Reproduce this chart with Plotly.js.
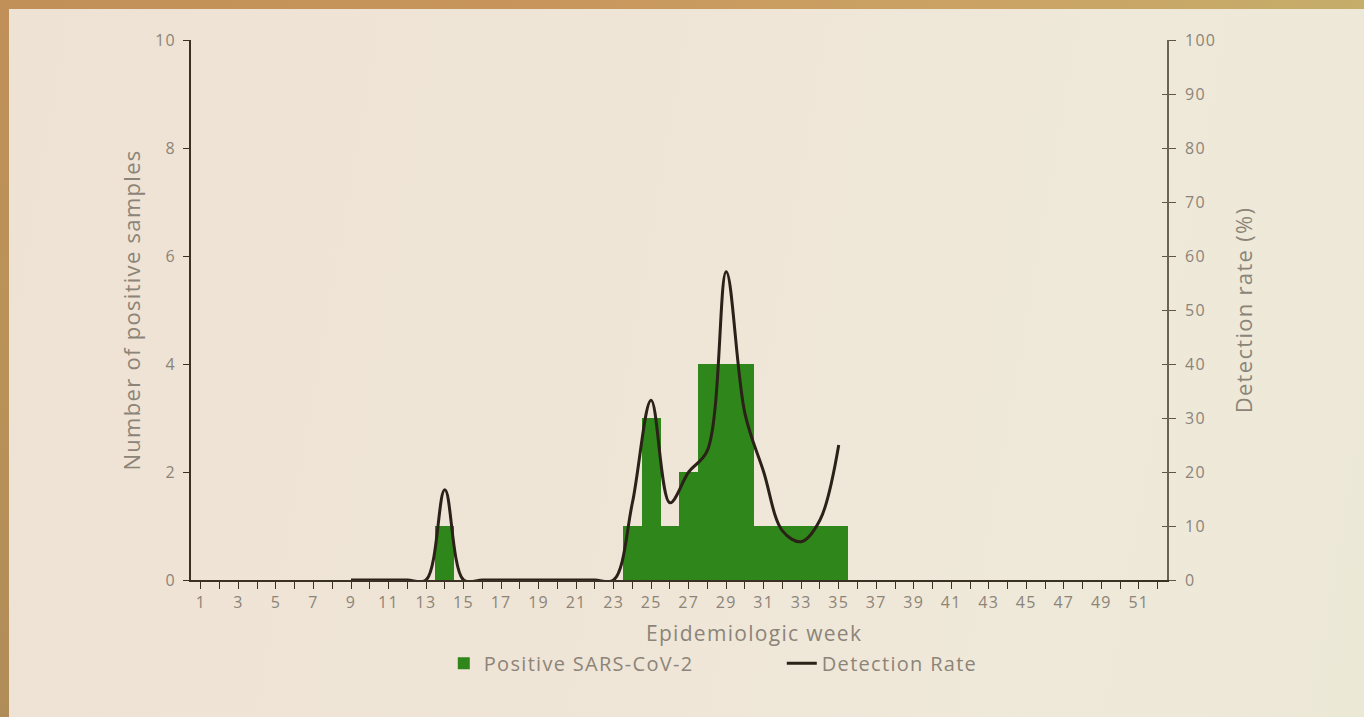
<!DOCTYPE html>
<html>
<head>
<meta charset="utf-8">
<script src="https://cdn.plot.ly/plotly-3.0.1.min.js"></script>
<style>
html,body{margin:0;padding:0;width:1364px;height:717px;overflow:hidden;}
#bg{position:absolute;left:0;top:0;width:1364px;height:717px;
 background:linear-gradient(100deg,#eee2d4 0%,#efe5d7 45%,#efe9da 75%,#ece8d6 100%);}
#btop{position:absolute;left:0;top:0;width:1364px;height:9px;
 background:linear-gradient(90deg,#c09058 0%,#c8965c 40%,#cba264 70%,#c5ad6a 100%);}
#bleft{position:absolute;left:0;top:0;width:9px;height:717px;
 background:linear-gradient(180deg,#c09058 0%,#b99257 50%,#b08c58 100%);}
#chart{position:absolute;left:0;top:0;width:1364px;height:717px;}
text{letter-spacing:1.3px;}
</style>
</head>
<body>
<div id="bg"></div>
<div id="chart"></div>
<div id="btop"></div>
<div id="bleft"></div>
<script>
// Epidemiologic weeks 1..52
const weeks = [];
for (let w = 1; w <= 52; w++) weeks.push(w);
const tickLabels = weeks.map(w => (w % 2 === 1 ? String(w) : ''));

// Positive SARS-CoV-2 samples per week
const positiveWeeks = [14, 24, 25, 26, 27, 28, 29, 30, 31, 32, 33, 34, 35];
const positiveCounts = [1, 1, 3, 1, 2, 4, 4, 4, 1, 1, 1, 1, 1];

// Detection rate (%) per week
const rateWeeks = [9, 10, 11, 12, 13, 14, 15, 16, 17, 18, 19, 20, 21, 22, 23, 24, 25, 26, 27, 28, 29, 30, 31, 32, 33, 34, 35];
const rateValues = [0, 0, 0, 0, 0, 16.7, 0, 0, 0, 0, 0, 0, 0, 0, 0, 14.3, 33.3, 14.3, 20, 24, 57.1, 30.8, 20, 9.1, 7.1, 11.1, 25];

const gray = '#8c8478';
const fontFam = '"Open Sans", "DejaVu Sans", sans-serif';

const traces = [
  {
    type: 'bar', name: 'Positive SARS-CoV-2',
    x: positiveWeeks, y: positiveCounts,
    marker: {color: '#2f861a'}, width: 1,
    yaxis: 'y'
  },
  {
    type: 'scatter', mode: 'lines', name: 'Detection Rate',
    x: rateWeeks, y: rateValues,
    line: {color: '#2b2118', width: 3, shape: 'spline', smoothing: 1},
    yaxis: 'y2'
  },
  {
    type: 'scatter', mode: 'lines', x: [], y: [], yaxis: 'y3',
    showlegend: false, hoverinfo: 'skip'
  }
];

const layout = {
  width: 1364, height: 717,
  paper_bgcolor: 'rgba(0,0,0,0)', plot_bgcolor: 'rgba(0,0,0,0)',
  margin: {l: 191, r: 197, t: 40, b: 137},
  font: {family: fontFam, color: gray, size: 16},
  bargap: 0,
  showlegend: true,
  legend: {
    orientation: 'h', x: 0.259, xanchor: 'left', y: -0.154, yanchor: 'middle',
    font: {size: 20, color: gray, family: fontFam},
    entrywidth: 293, itemwidth: 30, traceorder: 'normal'
  },
  xaxis: {
    range: [0.47, 52.5],
    tickmode: 'array', tickvals: weeks, ticktext: tickLabels,
    ticks: 'outside', ticklen: 7, tickcolor: '#3b3024', tickwidth: 1,
    showline: true, linecolor: '#3b3024', linewidth: 1.5,
    showgrid: false, zeroline: false,
    tickfont: {size: 16, color: gray}
  },
  yaxis: {
    range: [0, 10], dtick: 2,
    ticks: 'outside', ticklen: 6, tickcolor: '#3b3024',
    showline: true, linecolor: '#3b3024', linewidth: 1.5,
    showgrid: false, zeroline: false, ticklabelstandoff: 4,
    tickfont: {size: 16, color: gray},
    title: {text: 'Number of positive samples', font: {size: 22, color: gray}, standoff: 8}
  },
  yaxis2: {
    range: [0, 100], dtick: 10, overlaying: 'y', side: 'right',
    ticks: 'outside', ticklen: 7, tickcolor: '#5e5546',
    showline: true, linecolor: '#6b6253', linewidth: 1.5,
    showgrid: false, zeroline: false, ticklabelstandoff: 6,
    tickfont: {size: 16, color: gray},
    title: {text: 'Detection rate (%)', font: {size: 22, color: gray}, standoff: 21}
  },
  yaxis3: {
    range: [0, 100], dtick: 10, overlaying: 'y', side: 'right',
    ticks: 'inside', ticklen: 5, tickcolor: '#5e5546',
    showticklabels: false, showline: false, showgrid: false, zeroline: false
  },
  annotations: [
    {text: 'Epidemiologic week', xref: 'paper', yref: 'paper',
     x: 0.577, y: -0.0985, xanchor: 'center', yanchor: 'middle', showarrow: false,
     font: {size: 21, color: gray, family: fontFam}}
  ]
};

Plotly.newPlot('chart', traces, layout, {displayModeBar: false, responsive: false});
</script>
</body>
</html>
